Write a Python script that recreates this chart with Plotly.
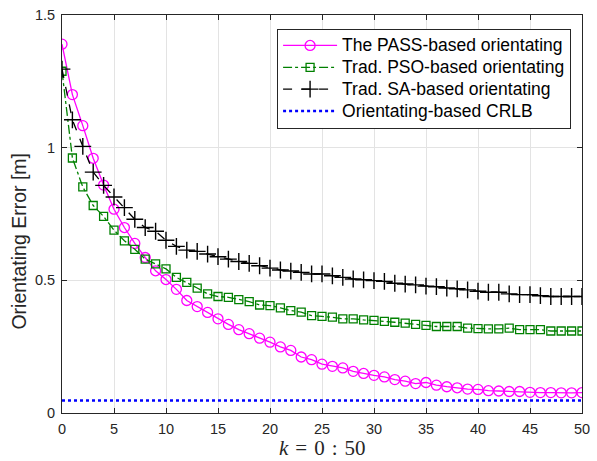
import plotly.graph_objects as go

k = list(range(51))

pass_err = [1.39, 1.20, 1.083, 0.96, 0.859, 0.768, 0.699, 0.639, 0.586, 0.536,
            0.503, 0.466, 0.424, 0.401, 0.379, 0.355, 0.334, 0.314, 0.299, 0.282,
            0.267, 0.249, 0.236, 0.211, 0.201, 0.184, 0.176, 0.170, 0.157, 0.149,
            0.142, 0.136, 0.126, 0.120, 0.111, 0.115, 0.105, 0.099, 0.095, 0.090,
            0.089, 0.084, 0.083, 0.081, 0.081, 0.078, 0.077, 0.077, 0.076, 0.076,
            0.077]

pso_err = [1.288, 0.961, 0.852, 0.782, 0.741, 0.689, 0.649, 0.617, 0.580, 0.562,
           0.543, 0.511, 0.492, 0.471, 0.449, 0.439, 0.436, 0.427, 0.420, 0.407,
           0.405, 0.396, 0.386, 0.380, 0.367, 0.364, 0.361, 0.355, 0.355, 0.351,
           0.349, 0.345, 0.342, 0.339, 0.334, 0.330, 0.326, 0.326, 0.326, 0.320,
           0.318, 0.317, 0.317, 0.320, 0.314, 0.314, 0.314, 0.309, 0.309, 0.309,
           0.309]

sa_err = [1.296, 1.105, 1.005, 0.908, 0.858, 0.814, 0.774, 0.730, 0.699, 0.685,
          0.651, 0.628, 0.614, 0.609, 0.599, 0.589, 0.580, 0.571, 0.564, 0.555,
          0.546, 0.539, 0.535, 0.530, 0.524, 0.524, 0.517, 0.511, 0.505, 0.502,
          0.499, 0.496, 0.489, 0.486, 0.483, 0.478, 0.476, 0.471, 0.468, 0.464,
          0.459, 0.455, 0.455, 0.449, 0.446, 0.446, 0.442, 0.439, 0.439, 0.439,
          0.439]

crlb_value = 0.047
crlb = [crlb_value for _ in k]

names = ["The PASS-based orientating", "Trad. PSO-based orientating",
         "Trad. SA-based orientating", "Orientating-based CRLB"]

x_ticks = [0, 5, 10, 15, 20, 25, 30, 35, 40, 45, 50]
y_ticks = [0, 0.5, 1, 1.5]
y_tick_labels = ["0", "0.5", "1", "1.5"]


def legend_name(s):
    return '<span style="font-size:17.5px">' + s + '</span>'


fig = go.Figure()
fig.add_trace(go.Scatter(
    x=k, y=pass_err, name=legend_name(names[0]), mode="lines+markers",
    line=dict(color="#FF00FF", width=1.3),
    marker=dict(symbol="circle-open", size=10, color="#FF00FF", line=dict(width=1.3))))
fig.add_trace(go.Scatter(
    x=k, y=pso_err, name=legend_name(names[1]), mode="lines+markers",
    line=dict(color="#008000", width=1.3, dash="dashdot"),
    marker=dict(symbol="square-open", size=8, color="#008000", line=dict(width=1.3))))
fig.add_trace(go.Scatter(
    x=k, y=sa_err, name=legend_name(names[2]), mode="lines+markers",
    line=dict(color="black", width=1.3, dash="dash"),
    marker=dict(symbol="cross-thin-open", size=12, color="black", line=dict(width=1.4, color="black"))))
fig.add_trace(go.Scatter(
    x=k, y=crlb, name=legend_name(names[3]), mode="lines",
    line=dict(color="#0000FF", width=2.6, dash="dot")))

axis_common = dict(
    showline=True, linecolor="#262626", linewidth=1, mirror="ticks",
    ticks="inside", ticklen=5, tickcolor="#262626", tickwidth=1,
    showgrid=True, gridcolor="#e3e3e3", gridwidth=1, zeroline=False,
    tickfont=dict(family="Liberation Sans, Arial", size=14.5, color="#262626"),
    ticklabeloverflow="allow",
)

fig.update_xaxes(range=[0, 50], tickvals=x_ticks, ticklabelstandoff=3, **axis_common)
fig.update_yaxes(range=[0, 1.5], tickvals=y_ticks, ticktext=y_tick_labels,
                 ticklabelstandoff=3, **axis_common)

fig.add_annotation(
    text="Orientating Error [m]", xref="paper", yref="paper",
    x=-0.0832, y=0.4325, xanchor="center", yanchor="middle", textangle=-90,
    showarrow=False, font=dict(family="Liberation Sans, Arial", size=19.5, color="#262626"))
fig.add_annotation(
    text="<i>k</i>\u2004=\u20040\u2004:\u200450", xref="paper", yref="paper",
    x=0.5, y=-0.088, xanchor="center", yanchor="middle",
    showarrow=False, font=dict(family="Liberation Serif, Times New Roman", size=21, color="#262626"))

fig.update_layout(
    width=597, height=461,
    margin=dict(l=62, r=7, t=13, b=48),
    paper_bgcolor="white", plot_bgcolor="white",
    showlegend=True,
    legend=dict(
        x=0.979, y=0.966, xanchor="right", yanchor="top",
        bgcolor="white", bordercolor="#262626", borderwidth=1,
        font=dict(family="Liberation Sans, Arial", size=14.5, color="black"),
        itemwidth=54, tracegroupgap=0,
    ),
)

fig.write_html("out.html")
